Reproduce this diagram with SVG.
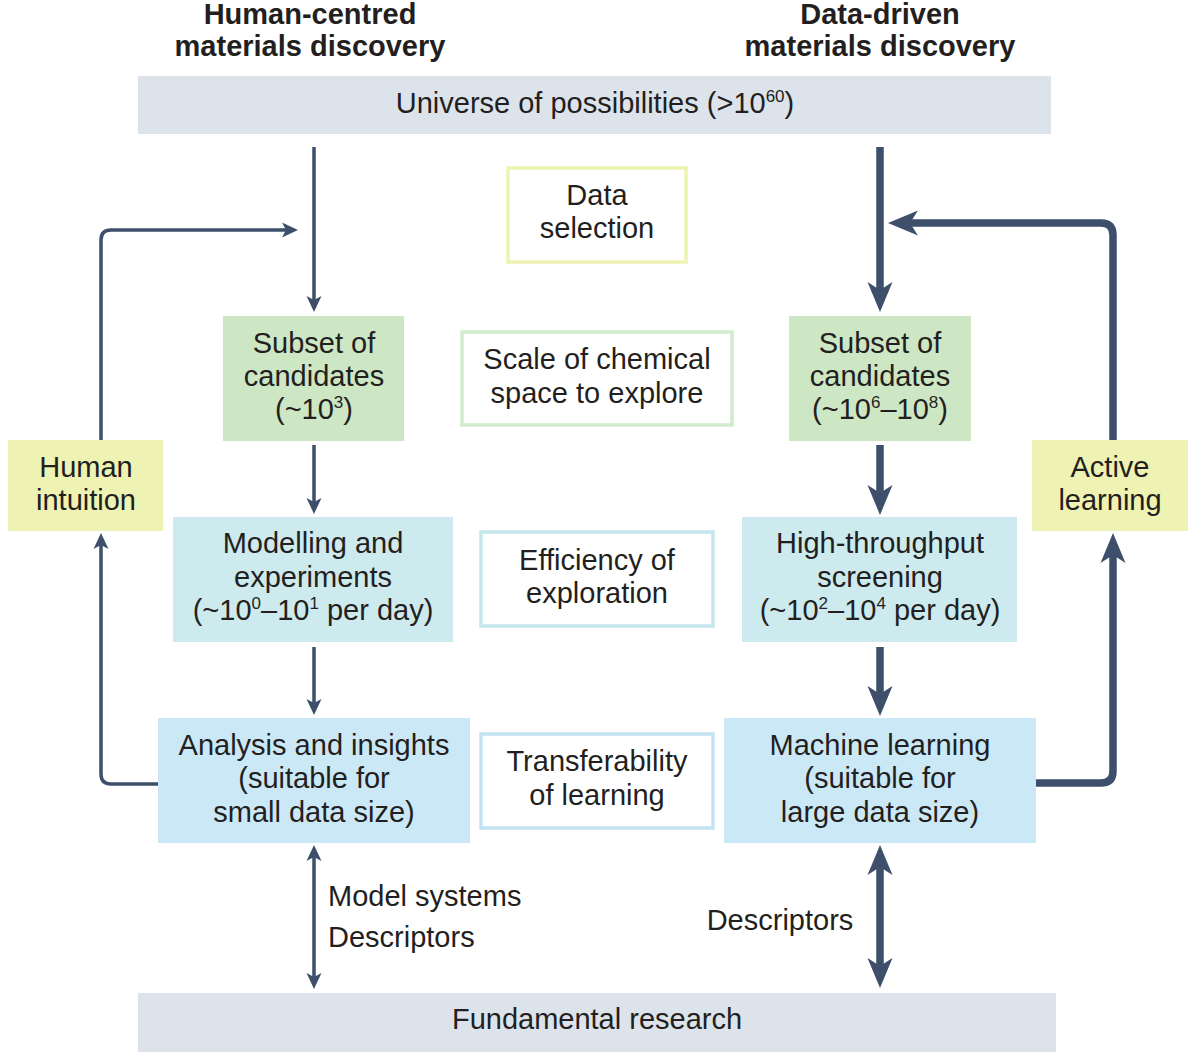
<svg xmlns="http://www.w3.org/2000/svg" width="1194" height="1052" viewBox="0 0 1194 1052">
<style>
  text { font-family: "Liberation Sans", Arial, sans-serif; font-size: 29px; fill: #231f20; text-anchor: middle; }
  .title { font-weight: bold; }
  .lbl { text-anchor: start; }
  .band { fill: #dde3eb; }
  .yellow { fill: #eef2b2; }
  .green { fill: #cde6c4; }
  .cyan { fill: #cdeaee; }
  .blue { fill: #cbe8f7; }
  .oyellow { fill: #fff; stroke: #eef3b5; stroke-width: 3.5; }
  .ogreen { fill: #fff; stroke: #d2ebcc; stroke-width: 3.5; }
  .ocyan { fill: #fff; stroke: #c5e6ec; stroke-width: 3.5; }
  .oblue { fill: #fff; stroke: #c3e3f2; stroke-width: 3.5; }
  .thin { fill: none; stroke: #3d4f6b; stroke-width: 3.5; marker-end: url(#headThin); }
  .thick { fill: none; stroke: #3d4f6b; stroke-width: 7.5; marker-end: url(#headThick); }
  .both-thin { marker-start: url(#headThin); }
  .both-thick { marker-start: url(#headThick); }
</style>
<defs>
  <marker id="headThin" markerUnits="userSpaceOnUse" markerWidth="30" markerHeight="30" refX="0" refY="0" viewBox="-15 -15 30 30" orient="auto-start-reverse" overflow="visible">
    <path d="M-4,-7.5 L12,0 L-4,7.5 L0,0 Z" fill="#3d4f6b"/>
  </marker>
  <marker id="headThick" markerUnits="userSpaceOnUse" markerWidth="60" markerHeight="60" refX="0" refY="0" viewBox="-30 -30 60 60" orient="auto-start-reverse" overflow="visible">
    <path d="M-8,-12.5 L22,0 L-8,12.5 L0,0 Z" fill="#3d4f6b"/>
  </marker>
</defs>
<rect width="1194" height="1052" fill="#fff"/>

<g id="titles">
  <text class="title" x="310" y="24">Human-centred</text>
  <text class="title" x="310" y="56">materials discovery</text>
  <text class="title" x="880" y="24">Data-driven</text>
  <text class="title" x="880" y="56">materials discovery</text>
</g>

<g id="connectors">
  <path class="thin" d="M314,147 V300"/>
  <path class="thin" d="M314,445 V502"/>
  <path class="thin" d="M314,647 V703"/>
  <path class="thin both-thin" d="M314,857 V977"/>
  <path class="thin" d="M158,784 H111 Q101,784 101,774 V545"/>
  <path class="thin" d="M101,440 V240 Q101,230 111,230 H286"/>
  <path class="thick" d="M880,147 V290"/>
  <path class="thick" d="M880,445 V493"/>
  <path class="thick" d="M880,647 V694"/>
  <path class="thick both-thick" d="M880,867 V966"/>
  <path class="thick" d="M1036,783 H1101 Q1113,783 1113,771 V555"/>
  <path class="thick" d="M1113,440 V235 Q1113,223 1101,223 H910"/>
</g>

<g id="universe">
  <rect class="band" x="138" y="76" width="913" height="58"/>
  <text x="595" y="113">Universe of possibilities (&gt;10<tspan font-size="17" dy="-11">60</tspan><tspan dy="11">)</tspan></text>
</g>

<g id="data-selection">
  <rect class="oyellow" x="508" y="168" width="178" height="94"/>
  <text x="597" y="205">Data</text>
  <text x="597" y="238">selection</text>
</g>

<g id="subset-left">
  <rect class="green" x="223" y="316" width="181" height="125"/>
  <text x="314" y="353">Subset of</text>
  <text x="314" y="386">candidates</text>
  <text x="314" y="419">(~10<tspan font-size="17" dy="-11">3</tspan><tspan dy="11">)</tspan></text>
</g>

<g id="scale">
  <rect class="ogreen" x="462" y="332" width="270" height="93"/>
  <text x="597" y="369">Scale of chemical</text>
  <text x="597" y="403">space to explore</text>
</g>

<g id="subset-right">
  <rect class="green" x="789" y="316" width="182" height="125"/>
  <text x="880" y="353">Subset of</text>
  <text x="880" y="386">candidates</text>
  <text x="880" y="419">(~10<tspan font-size="17" dy="-11">6</tspan><tspan dy="11">–10</tspan><tspan font-size="17" dy="-11">8</tspan><tspan dy="11">)</tspan></text>
</g>

<g id="human-intuition">
  <rect class="yellow" x="8" y="440" width="155" height="91"/>
  <text x="86" y="477">Human</text>
  <text x="86" y="510">intuition</text>
</g>

<g id="active-learning">
  <rect class="yellow" x="1032" y="440" width="156" height="91"/>
  <text x="1110" y="477">Active</text>
  <text x="1110" y="510">learning</text>
</g>

<g id="modelling">
  <rect class="cyan" x="173" y="517" width="280" height="125"/>
  <text x="313" y="553">Modelling and</text>
  <text x="313" y="587">experiments</text>
  <text x="313" y="620">(~10<tspan font-size="17" dy="-11">0</tspan><tspan dy="11">–10</tspan><tspan font-size="17" dy="-11">1</tspan><tspan dy="11"> per day)</tspan></text>
</g>

<g id="efficiency">
  <rect class="ocyan" x="481" y="532" width="232" height="94"/>
  <text x="597" y="570">Efficiency of</text>
  <text x="597" y="603">exploration</text>
</g>

<g id="high-throughput">
  <rect class="cyan" x="742" y="517" width="275" height="125"/>
  <text x="880" y="553">High-throughput</text>
  <text x="880" y="587">screening</text>
  <text x="880" y="620">(~10<tspan font-size="17" dy="-11">2</tspan><tspan dy="11">–10</tspan><tspan font-size="17" dy="-11">4</tspan><tspan dy="11"> per day)</tspan></text>
</g>

<g id="analysis">
  <rect class="blue" x="158" y="718" width="312" height="125"/>
  <text x="314" y="755">Analysis and insights</text>
  <text x="314" y="788">(suitable for</text>
  <text x="314" y="822">small data size)</text>
</g>

<g id="transferability">
  <rect class="oblue" x="481" y="734" width="232" height="94"/>
  <text x="597" y="771">Transferability</text>
  <text x="597" y="805">of learning</text>
</g>

<g id="machine-learning">
  <rect class="blue" x="724" y="718" width="312" height="125"/>
  <text x="880" y="755">Machine learning</text>
  <text x="880" y="788">(suitable for</text>
  <text x="880" y="822">large data size)</text>
</g>

<g id="labels">
  <text class="lbl" x="328" y="906">Model systems</text>
  <text class="lbl" x="328" y="947">Descriptors</text>
  <text x="780" y="930">Descriptors</text>
</g>

<g id="fundamental">
  <rect class="band" x="138" y="993" width="918" height="59"/>
  <text x="597" y="1029">Fundamental research</text>
</g>
</svg>
